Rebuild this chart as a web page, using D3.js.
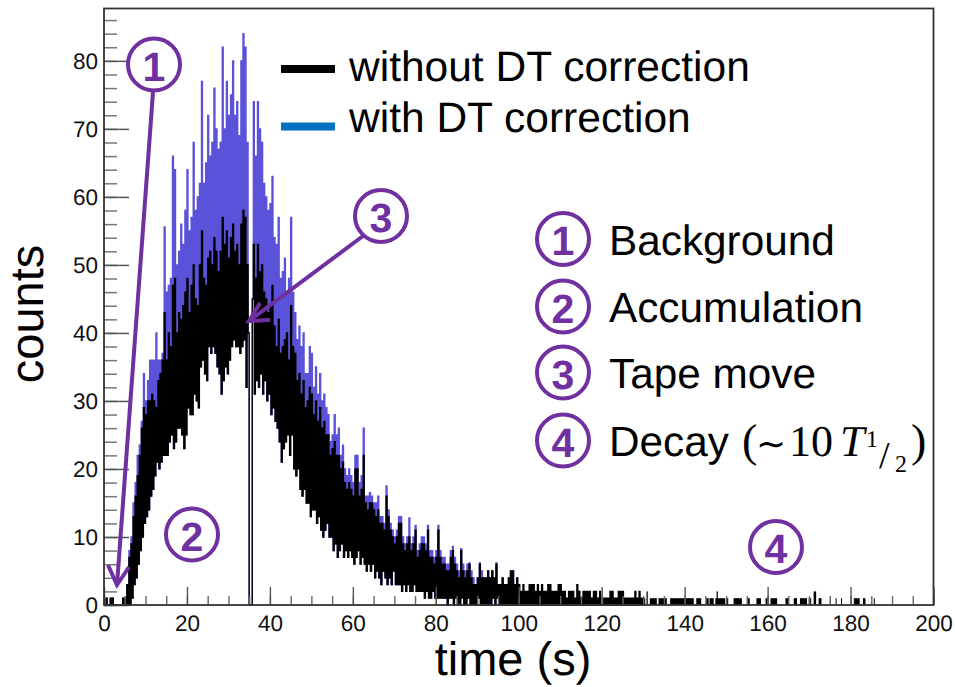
<!DOCTYPE html>
<html>
<head>
<meta charset="utf-8">
<script src="https://cdn.jsdelivr.net/npm/d3@7"></script>
<style>
  body { margin: 0; background: #fff; }
  text { font-family: "Liberation Sans", Arial, sans-serif; text-rendering: geometricPrecision; }
</style>
</head>
<body>
<svg id="chart" width="955" height="687"></svg>
<script>
// every row is 10 s, two values per second: [hi, lo] pairs give the jagged band
const binSeconds = 0.5;

const rawHigh = [
  0,1,0,1,1,0,0,0,0,1, 1,3,7,9,13,16,19,22,26,29,
  28,30,30,31,30,29,33,34,36,43, 36,40,38,47,48,40,43,42,44,46,
  48,43,47,50,45,44,50,55,48,47, 51,52,50,54,52,49,52,57,53,55,
  51,54,56,52,53,50,56,58,57,50, 0,0,53,48,53,49,50,46,45,43,
  44,47,41,38,42,37,38,39,40,36, 44,38,37,33,34,31,33,29,30,32,
  31,28,30,27,29,26,27,25,25,22, 23,24,22,22,20,21,18,17,18,17,
  16,20,20,16,17,22,15,14,15,15, 14,13,14,12,12,11,16,13,11,10,
  9,10,12,12,9,8,9,10,8,9, 11,7,8,9,9,8,11,7,7,6,
  7,11,7,6,6,5,5,7,8,6, 5,4,8,5,4,5,6,4,3,3,
  4,6,4,4,4,5,4,5,4,6, 3,3,4,3,3,4,5,5,3,4,
  3,2,3,2,2,3,3,3,2,3, 2,3,2,2,3,3,2,2,2,3,
  3,2,2,1,2,2,2,1,3,2, 1,2,2,2,2,1,2,2,1,2,
  0,1,1,1,2,2,1,1,2,2, 2,1,1,1,1,1,2,1,2,1
];

const rawLow = [
  0,0,0,0,0,0,0,0,0,0, 0,0,0,1,3,4,6,8,10,12,
  13,14,16,17,19,21,20,21,22,22, 22,24,25,23,24,26,26,25,23,25,
  29,28,28,31,30,29,35,36,34,33, 38,37,38,37,35,34,31,33,35,34,
  36,38,39,38,38,37,38,39,32,40, 0,45,31,33,32,34,31,33,30,31,
  28,29,27,26,24,21,23,24,25,22, 25,20,19,20,17,16,17,15,15,13,
  14,14,12,13,11,10,11,12,10,10, 8,9,7,8,9,7,8,7,8,7,
  6,7,8,6,7,6,5,6,5,6, 4,5,4,3,5,4,3,4,3,5,
  3,3,3,2,3,2,3,2,2,3, 2,2,2,2,1,2,1,1,2,1,
  1,1,1,1,1,0,1,1,0,1, 0,0,1,0,0,1,0,0,0,0,
  1,0,0,0,0,0,0,1,0,1, 0,0,0,0,0,0,0,0,0,0,
  0,0,0,0,0,0,0,0,0,0, 0,0,0,0,0,0,0,0,0,0,
  0,0,0,0,0,0,0,0,0,0, 0,0,0,0,0,0,0,0,0,0,
  0,0,0,0,0,0,0,0,0,0, 0,0,0,0,0,0,0,0,0,0
];

const correctedHigh = [
  0,1,0,1,1,0,0,0,0,1, 1,3,8,10,15,18,22,23.5,27,34,
  30,33,36,36,36,40,36,36,37,55.6, 46,47,48,66,64,50,52,56,53,58,
  64,55,57,68,58,60,62,77,62,65, 72,66,68,76,70,67,68,82,70,77,
  72,75,80,72,74,69,80,84,82,68, 0,0,74,66,74,70,68,62,60,58,
  59,63,54,53,57,48,49,51,46,48, 57,46,43,39,41,38,40,34,34,38,
  37,32,35,31,34,30,31,29,28,24, 25,28,25,26,22,23.5,20,19,20,19,
  18,22,22,18,19,26,16,16,16.5,16, 15,15,16,13,13,12,17.5,14,12,11,
  10,11,13,13,10,9,10,12.8,9,10, 11.7,8,9,10,10,9,11.7,8,8,7,
  8,11.7,8,7,7,6,6,8,8.6,7, 6,5,8.3,6,5,6,6.2,5,4,3,
  4,6.2,5,4,4,5,4,5,4,6.2, 3,3,4,3,3,4,5,5,3,4
];

const tailStart = [129.7,130.8,131.6,133.7,136.5,142.8,145.2,146,147.4,147.7,150.2,151.8,155,157.3,159.5,160.7,164.3,166.3,167.8,169.9,171.1,172.3,175,176.4,177.7,180.8,183,185.6];
const tailEnd = [130.5,131.1,133.3,135.7,142.2,144,145.8,147,149.8,148,150.5,153.8,155.7,158.4,160,162.3,165.1,167.1,169.5,170.5,171.7,173,175.2,176.6,177.9,182.2,183.6,185.8];
const tailCount = [1,2,1,1,1,1,1,1,1,2,1,1,1,1,1,1,1,1,1,1,2,1,1,1,1,1,1,1];

const xMajor = d3.range(0, 201, 20);
const xMinor = d3.range(0, 201, 5);
const yMajor = d3.range(0, 81, 10);
const yMinor = d3.range(0, 87, 2);

const legendSeries = ["without DT correction", "with DT correction"];
const legendColors = ["#000000", "#0070c0"];
const phaseLabels = ["Background", "Accumulation", "Tape move"];

const purple = "#7030a0";
const indigo = "#5a52d8";

const svg = d3.select("#chart");
const x = d3.scaleLinear().domain([0, 200]).range([104, 933.5]);
const y = d3.scaleLinear().domain([0, 87.7]).range([605, 8.5]);

// turn hi/lo pairs into a step outline like a fine binned histogram
function outline(high) {
  const pts = [];
  high.forEach((v, i) => {
    pts.push([i * binSeconds, v]);
    pts.push([i * binSeconds + binSeconds / 2, rawLow[i]]);
  });
  pts.push([high.length * binSeconds, 0]);
  return pts;
}

const stepLine = d3.line()
  .x(d => x(d[0]))
  .y(d => y(d[1]))
  .curve(d3.curveStepAfter);

// --- HISTOGRAMS ---
svg.append("path")
  .attr("d", stepLine(outline(correctedHigh)))
  .attr("fill", "none")
  .attr("stroke", indigo)
  .attr("stroke-width", 1.3);

svg.append("path")
  .attr("d", stepLine(outline(rawHigh)))
  .attr("fill", "none")
  .attr("stroke", "#000")
  .attr("stroke-width", 1.3);

svg.append("g")
  .selectAll("rect")
  .data(tailStart)
  .enter()
  .append("rect")
  .attr("x", d => x(d))
  .attr("width", (d, i) => Math.max(x(tailEnd[i]) - x(d), 1))
  .attr("y", (d, i) => y(tailCount[i]))
  .attr("height", (d, i) => y(0) - y(tailCount[i]))
  .attr("fill", "#000");

// --- AXES ---
function styleAxis(g, color, width) {
  g.select(".domain").remove();
  g.selectAll("line").attr("stroke", color).attr("stroke-width", width);
}

svg.append("g")
  .attr("transform", "translate(0,605)")
  .call(d3.axisBottom(x).tickValues(xMinor).tickSize(-9).tickFormat(""))
  .call(styleAxis, "#666", 1.4);

svg.append("g")
  .attr("transform", "translate(104,0)")
  .call(d3.axisLeft(y).tickValues(yMinor).tickSize(-13).tickFormat(""))
  .call(styleAxis, "#777", 1.5);

const xAxis = svg.append("g")
  .attr("transform", "translate(0,605)")
  .call(d3.axisBottom(x).tickValues(xMajor).tickSize(-18).tickPadding(10))
  .call(styleAxis, "#555", 1.4);

const yAxis = svg.append("g")
  .attr("transform", "translate(104,0)")
  .call(d3.axisLeft(y).tickValues(yMajor).tickSize(-25).tickPadding(6))
  .call(styleAxis, "#555", 1.5);

xAxis.selectAll("text").attr("font-size", 22.5).attr("font-family", "Liberation Sans").attr("fill", "#111");
yAxis.selectAll("text").attr("font-size", 22.5).attr("font-family", "Liberation Sans").attr("fill", "#111");

// frame
svg.append("rect")
  .attr("x", x(0))
  .attr("y", y(87.7))
  .attr("width", x(200) - x(0))
  .attr("height", y(0) - y(87.7))
  .attr("fill", "none")
  .attr("stroke", "#333")
  .attr("stroke-width", 1.8);

// --- AXIS TITLES ---
svg.append("text")
  .attr("x", 513)
  .attr("y", 675)
  .attr("text-anchor", "middle")
  .attr("font-size", 47)
  .text("time (s)");

svg.append("text")
  .attr("transform", "translate(43,314) rotate(-90)")
  .attr("text-anchor", "middle")
  .attr("font-size", 47)
  .text("counts");

// --- LEGEND ---
legendSeries.forEach((name, i) => {
  svg.append("rect")
    .attr("x", 281)
    .attr("y", [65, 122.5][i])
    .attr("width", 54)
    .attr("height", 8)
    .attr("fill", legendColors[i]);
  svg.append("text")
    .attr("x", 349)
    .attr("y", [81, 132][i])
    .attr("font-size", 42.5)
    .attr("fill", "#000")
    .text(name);
});

// --- PHASE MARKERS ---
function badge(cx, cy, label) {
  svg.append("circle")
    .attr("cx", cx)
    .attr("cy", cy)
    .attr("r", 26)
    .attr("fill", "none")
    .attr("stroke", purple)
    .attr("stroke-width", 4);
  svg.append("text")
    .attr("x", cx)
    .attr("y", cy + 16)
    .attr("text-anchor", "middle")
    .attr("font-size", 41)
    .attr("font-weight", "bold")
    .attr("fill", purple)
    .text(label);
}

badge(154, 64.5, "1");
badge(192, 534.5, "2");
badge(381, 216, "3");
badge(776, 547, "4");
badge(563, 239, "1");
badge(563, 306.5, "2");
badge(563, 372.5, "3");
badge(563, 440.5, "4");

phaseLabels.forEach((name, i) => {
  svg.append("text")
    .attr("x", 609)
    .attr("y", [255, 322, 388][i])
    .attr("font-size", 42.3)
    .attr("fill", "#000")
    .text(name);
});

svg.append("text")
  .attr("x", 609)
  .attr("y", 456)
  .attr("font-size", 42.3)
  .attr("fill", "#000")
  .text("Decay");

// the half-life term is set in a serif math face
function mathText(px, py, size, str, italic) {
  svg.append("text")
    .attr("x", px)
    .attr("y", py)
    .attr("font-size", size)
    .attr("fill", "#000")
    .style("font-family", "'Liberation Serif', serif")
    .style("font-style", italic ? "italic" : "normal")
    .text(str);
}
mathText(742, 456, 46, "(");
mathText(756, 456, 36, "∼");
mathText(789, 456, 44, "10");
mathText(840, 456, 44, "T", true);
mathText(866, 447, 24, "1");
mathText(879, 468, 38, "/");
mathText(895, 472, 24, "2");
mathText(911, 456, 46, ")");

// --- ARROWS ---
const arrowLine = d3.line();
function arrow(pts) {
  svg.append("path")
    .attr("d", arrowLine(pts))
    .attr("fill", "none")
    .attr("stroke", purple)
    .attr("stroke-width", 4)
    .attr("stroke-linejoin", "miter");
}
arrow([[153, 92], [117, 585]]);
arrow([[108, 565], [117, 585], [129, 567]]);
arrow([[363, 236], [249, 321]]);
arrow([[260, 303], [249, 321], [270, 320]]);
</script>
</body>
</html>
